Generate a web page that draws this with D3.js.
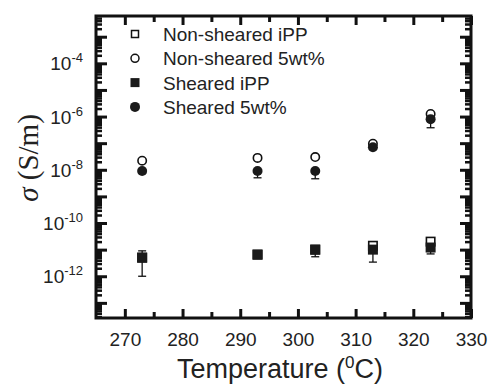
<!DOCTYPE html>
<html><head><meta charset="utf-8">
<script src="https://cdn.jsdelivr.net/npm/d3@7"></script>
<style>body{margin:0;background:#fff}svg{display:block}</style>
</head><body><svg id="c" width="489" height="385"></svg>
<script>
const temps = [273, 293, 303, 313, 323];
const nonShearedIPP = [5e-12, 6.5e-12, 1e-11, 1.4e-11, 2e-11];
const nonSheared5 = [2.2e-8, 2.8e-8, 3e-8, 9.5e-8, 1.25e-6];
const shearedIPP = [5e-12, 6.5e-12, 1e-11, 1e-11, 1.2e-11];
const shearedIPPLow = [1e-12, 5.5e-12, 5.4e-12, 3.4e-12, 6.9e-12];
const shearedIPPHigh = [9e-12, 7.5e-12, 1.2e-11, 1.9e-11, 1.4e-11];
const sheared5 = [9e-9, 9e-9, 9e-9, 7e-8, 8e-7];
const sheared5Low = [7.5e-9, 5e-9, 4.6e-9, 6e-8, 3.8e-7];
const sheared5High = [1e-8, 1e-8, 1e-8, 8e-8, 9e-7];
const xTicks = [270, 280, 290, 300, 310, 320, 330];
const yTickExps = [-12, -10, -8, -6, -4];
const legendLabels = ["Non-sheared iPP", "Non-sheared 5wt%", "Sheared iPP", "Sheared 5wt%"];

const svg = d3.select("#c");
const L = 96, R = 471, T = 16, B = 318;
const x = d3.scaleLinear().domain([265, 330]).range([L, R]);
const y = d3.scaleLog().domain([2.7e-14, 6e-3]).range([B, T]);

const yMajor = d3.range(-13, -2).map(e => Math.pow(10, e));
const yMinor = [];
d3.range(-14, -2).forEach(e => { for (let k = 2; k <= 9; k++) { const v = k * Math.pow(10, e); if (v > y.domain()[0] && v < y.domain()[1]) yMinor.push(v); } });
const xMinor = d3.range(275, 330, 10);

const FONT = "Arial, 'Liberation Sans', sans-serif";
const g = svg.append("g");
function axisStyle(w){ return sel => { sel.select(".domain").remove(); sel.selectAll("line").attr("stroke","#111").attr("stroke-width",w); }; }

// bottom
g.append("g").attr("transform",`translate(0,${B})`).call(d3.axisBottom(x).tickValues(xTicks).tickSize(-9).tickFormat(d3.format("d")).tickPadding(15))
 .call(axisStyle(3)).call(s=>s.selectAll("text").attr("font-family",FONT).attr("font-size",19).attr("fill","#222"));
g.append("g").attr("transform",`translate(0,${B})`).call(d3.axisBottom(x).tickValues(xMinor).tickSize(-6).tickFormat("")).call(axisStyle(3));
// top
g.append("g").attr("transform",`translate(0,${T})`).call(d3.axisTop(x).tickValues(xTicks).tickSize(-9).tickFormat("")).call(axisStyle(3));
g.append("g").attr("transform",`translate(0,${T})`).call(d3.axisTop(x).tickValues(xMinor).tickSize(-6).tickFormat("")).call(axisStyle(3));
// left
g.append("g").attr("transform",`translate(${L},0)`).call(d3.axisLeft(y).tickValues(yMajor).tickSize(-11).tickFormat("")).call(axisStyle(3));
g.append("g").attr("transform",`translate(${L},0)`).call(d3.axisLeft(y).tickValues(yMinor).tickSize(-6).tickFormat("")).call(axisStyle(2.5));
// right
g.append("g").attr("transform",`translate(${R},0)`).call(d3.axisRight(y).tickValues(yMajor).tickSize(-11).tickFormat("")).call(axisStyle(3));
g.append("g").attr("transform",`translate(${R},0)`).call(d3.axisRight(y).tickValues(yMinor).tickSize(-6).tickFormat("")).call(axisStyle(2.5));

// frame
g.append("rect").attr("x",L).attr("y",T).attr("width",R-L).attr("height",B-T).attr("fill","none").attr("stroke","#111").attr("stroke-width",3);

// y tick labels
const yl = g.append("g");
yTickExps.forEach(e => {
  const t = yl.append("text").attr("x", L-13).attr("y", y(Math.pow(10,e))+7).attr("text-anchor","end")
    .attr("font-family",FONT).attr("font-size",19).attr("fill","#222");
  t.append("tspan").text("10");
  t.append("tspan").attr("dy",-8).attr("font-size",13).text(String(e));
});

// data
const sq = 10, r = 5;
function errbars(lo, hi){
  temps.forEach((t,i)=>{
    const cx = x(t);
    g.append("line").attr("x1",cx).attr("x2",cx).attr("y1",y(lo[i])).attr("y2",y(hi[i])).attr("stroke","#111").attr("stroke-width",1.3);
    [lo[i],hi[i]].forEach(v=>g.append("line").attr("x1",cx-4).attr("x2",cx+4).attr("y1",y(v)).attr("y2",y(v)).attr("stroke","#111").attr("stroke-width",1.3));
  });
}
errbars(shearedIPPLow, shearedIPPHigh);
errbars(sheared5Low, sheared5High);

g.selectAll(".osq").data(temps).enter().append("rect")
  .attr("x",(d)=>x(d)-sq/2+0.8).attr("y",(d,i)=>y(nonShearedIPP[i])-sq/2+0.8).attr("width",sq-1.6).attr("height",sq-1.6)
  .attr("fill","#fff").attr("stroke","#111").attr("stroke-width",1.6);
g.selectAll(".oc").data(temps).enter().append("circle")
  .attr("cx",d=>x(d)).attr("cy",(d,i)=>y(nonSheared5[i])).attr("r",r-0.8)
  .attr("fill","#fff").attr("stroke","#111").attr("stroke-width",1.6);
g.selectAll(".fsq").data(temps).enter().append("rect")
  .attr("x",d=>x(d)-sq/2).attr("y",(d,i)=>y(shearedIPP[i])-sq/2).attr("width",sq).attr("height",sq).attr("fill","#1a1a1a");
g.selectAll(".fc").data(temps).enter().append("circle")
  .attr("cx",d=>x(d)).attr("cy",(d,i)=>y(sheared5[i])).attr("r",r).attr("fill","#1a1a1a");

// legend
const lg = g.append("g");
legendLabels.forEach((lab,i)=>{
  const ly = 34 + i*24.3, lx = 135;
  if (i===0) lg.append("rect").attr("x",lx-3.5).attr("y",ly-3.5).attr("width",7).attr("height",7).attr("fill","#fff").attr("stroke","#111").attr("stroke-width",1.5);
  if (i===1) lg.append("circle").attr("cx",lx).attr("cy",ly).attr("r",4).attr("fill","#fff").attr("stroke","#111").attr("stroke-width",1.5);
  if (i===2) lg.append("rect").attr("x",lx-4.5).attr("y",ly-4.5).attr("width",9).attr("height",9).attr("fill","#1a1a1a");
  if (i===3) lg.append("circle").attr("cx",lx).attr("cy",ly).attr("r",5).attr("fill","#1a1a1a");
  lg.append("text").attr("x",163).attr("y",ly+7).attr("font-family",FONT).attr("font-size",19).attr("fill","#222").text(lab);
});

// axis titles
const xt = g.append("text").attr("x",280).attr("y",378).attr("text-anchor","middle")
  .attr("font-family",FONT).attr("font-size",27).attr("fill","#222");
xt.append("tspan").text("Temperature (");
xt.append("tspan").attr("dy",-10).attr("font-size",17).text("0");
xt.append("tspan").attr("dy",10).text("C)");

const yt = g.append("text").attr("transform",`translate(38,${158}) rotate(-90)`).attr("text-anchor","middle")
  .attr("font-family","'Times New Roman', 'Liberation Serif', serif").attr("font-size",29).attr("fill","#222");
yt.append("tspan").attr("font-style","italic").text("σ");
yt.append("tspan").text(" (S/m)");
</script></body></html>
